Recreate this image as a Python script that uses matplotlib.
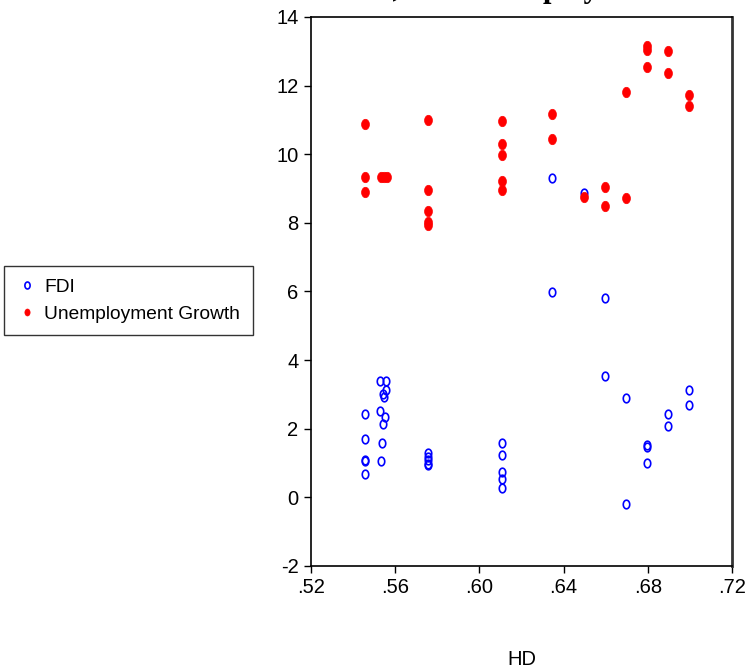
import numpy as np
import matplotlib
matplotlib.use("Agg")
import matplotlib.pyplot as plt
from matplotlib.path import Path

plt.rcParams['font.family'] = ['Liberation Sans', 'DejaVu Sans']
plt.rcParams['axes.unicode_minus'] = False

# HD on the x axis
hd_fdi = [0.5457, 0.5457, 0.5457, 0.5457, 0.5457,
          0.5528, 0.5555, 0.5558, 0.5540, 0.5547, 0.5528, 0.5550, 0.5540, 0.5537, 0.5534,
          0.5757, 0.5757, 0.5757, 0.5757, 0.5757,
          0.6106, 0.6106, 0.6106, 0.6106, 0.6106,
          0.6347, 0.6347,
          0.6495,
          0.6595, 0.6595,
          0.6695, 0.6695,
          0.6795, 0.6795, 0.6795,
          0.6894, 0.6894,
          0.6994, 0.6994]
fdi = [2.42, 1.70, 1.09, 1.05, 0.67,
       3.39, 3.39, 3.14, 3.01, 2.93, 2.53, 2.34, 2.14, 1.58, 1.06,
       1.28, 1.18, 1.08, 0.98, 0.93,
       1.58, 1.23, 0.74, 0.53, 0.28,
       9.32, 5.98,
       8.88,
       5.81, 3.54,
       2.90, -0.20,
       1.53, 1.47, 1.00,
       2.43, 2.07,
       3.14, 2.69]

hd_unemp = [0.5457, 0.5457, 0.5457,
            0.5533, 0.5547, 0.5561,
            0.5757, 0.5757, 0.5757, 0.5757, 0.5757,
            0.6106, 0.6106, 0.6106, 0.6106, 0.6106,
            0.6347, 0.6347,
            0.6495,
            0.6595, 0.6595,
            0.6695, 0.6695,
            0.6795, 0.6795, 0.6795,
            0.6894, 0.6894,
            0.6994, 0.6994]
unemp = [10.89, 9.35, 8.89,
         9.35, 9.35, 9.35,
         11.01, 8.97, 8.35, 8.03, 7.93,
         10.98, 10.29, 9.98, 9.23, 8.95,
         11.16, 10.45,
         8.76,
         9.05, 8.49,
         11.81, 8.73,
         13.15, 13.05, 12.55,
         13.01, 12.37,
         11.73, 11.41]

xticks = [0.52, 0.56, 0.60, 0.64, 0.68, 0.72]
xticklabels = ['.52', '.56', '.60', '.64', '.68', '.72']
yticks = [-2, 0, 2, 4, 6, 8, 10, 12, 14]

# slightly tall ellipse marker like the original export
t = np.linspace(0, 2 * np.pi, 40)
ellipse = Path(np.column_stack([0.75 * np.cos(t), np.sin(t)]), closed=True)

fig = plt.figure(figsize=(7.46, 6.71), dpi=100)
ax = fig.add_axes([0.4169, 0.1565, 0.5643, 0.8182])

ax.plot(hd_fdi, fdi, linestyle='none', marker=ellipse, markersize=6.2,
        markerfacecolor='none', markeredgecolor='#0000ff', markeredgewidth=1.2,
        label='FDI')
ax.plot(hd_unemp, unemp, linestyle='none', marker=ellipse, markersize=7.5,
        markerfacecolor='#ff0000', markeredgecolor='#ff0000', markeredgewidth=0.5,
        label='Unemployment Growth')

ax.set_xlim(0.52, 0.72)
ax.set_ylim(-2, 14)
ax.set_xticks(xticks)
ax.set_xticklabels(xticklabels)
ax.set_yticks(yticks)
ax.tick_params(direction='out', length=5, width=1, labelsize=14.5, pad=4)
for s in ax.spines.values():
    s.set_linewidth(1.2)
ax.spines['right'].set_color('#333333')
ax.spines['right'].set_linewidth(2)

ax.set_xlabel('HD', fontsize=14.5, labelpad=38)

# title mostly cut off above the figure
fig.text(340 / 746, 1 + 3 / 671, 'FDI, and Unemployment Growth', fontsize=22,
         fontweight='bold', family='Liberation Serif', ha='left', va='baseline')

leg = fig.legend(loc='upper left', bbox_to_anchor=(4 / 746, 1 - 266 / 671),
                 fontsize=13.8, frameon=True, fancybox=False, edgecolor='black',
                 borderaxespad=0, handletextpad=0.3, borderpad=0.65,
                 labelspacing=0.5, handlelength=1.15)
leg.get_frame().set_linewidth(1.0)
for h in leg.legend_handles:
    h.set_markersize(5)

fig.savefig('out.png', dpi=100)
